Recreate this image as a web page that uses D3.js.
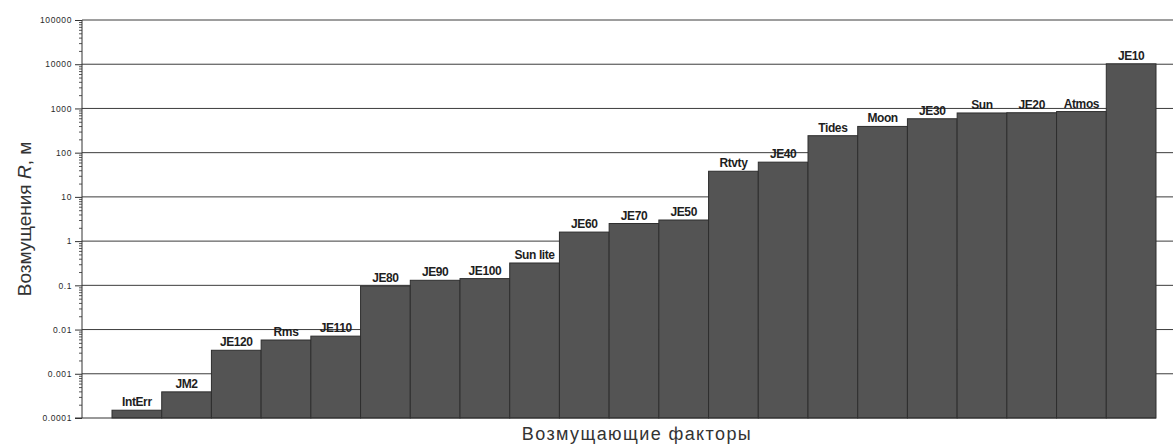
<!DOCTYPE html>
<html>
<head>
<meta charset="utf-8">
<script src="https://cdn.jsdelivr.net/npm/d3@7"></script>
<style>
  html, body { margin: 0; padding: 0; background: #fff; }
  svg { display: block; }
</style>
</head>
<body>
<svg id="chart" width="1173" height="444"></svg>
<script>
// ---- data ----
const categories = ["IntErr","JM2","JE120","Rms","JE110","JE80","JE90","JE100","Sun lite","JE60","JE70","JE50","Rtvty","JE40","Tides","Moon","JE30","Sun","JE20","Atmos","JE10"];
const values = [0.00015,0.00039,0.0034,0.0058,0.0071,0.097,0.13,0.142,0.32,1.6,2.5,3.0,38,61,242,392,585,790,800,850,10200];
const yTicks = [0.0001,0.001,0.01,0.1,1,10,100,1000,10000,100000];
const yTickLabels = ["0.0001","0.001","0.01","0.1","1","10","100","1000","10000","100000"];
const xTitle = "Возмущающие факторы";

// ---- layout ----
const svg = d3.select("#chart");
const axisX = 82, plotTop = 20, plotBottom = 418, gridRight = 1173;
const font = "Liberation Sans, Arial, sans-serif";

const y = d3.scaleLog().domain([0.0001, 100000]).range([plotBottom, plotTop]);
const x = d3.scaleBand().domain(categories).range([112, 1156]).paddingInner(0).paddingOuter(0);

// gridlines
svg.append("g").selectAll("line").data(yTicks.slice(1)).join("line")
  .attr("x1", axisX).attr("x2", gridRight)
  .attr("y1", d => y(d)).attr("y2", d => y(d))
  .attr("stroke", "#3c3c3c").attr("stroke-width", 1);

// bar labels (drawn beneath bars, so a long label is cut by the next bar)
svg.append("g").selectAll("text").data(categories).join("text")
  .attr("x", d => x(d) + x.bandwidth() / 2)
  .attr("y", (d, i) => y(values[i]) - 4)
  .attr("text-anchor", "middle")
  .attr("font-family", font)
  .attr("font-size", 12)
  .attr("font-weight", "bold")
  .attr("letter-spacing", -0.4)
  .attr("fill", "#1e1e1e")
  .text(d => d);

// bars
svg.append("g").selectAll("rect").data(categories).join("rect")
  .attr("x", d => x(d))
  .attr("width", x.bandwidth())
  .attr("y", (d, i) => y(values[i]))
  .attr("height", (d, i) => plotBottom - y(values[i]))
  .attr("fill", "#545454")
  .attr("stroke", "#2e2e2e")
  .attr("stroke-width", 1);

// bottom axis line
svg.append("line").attr("x1", axisX - 7).attr("x2", 1156)
  .attr("y1", plotBottom).attr("y2", plotBottom)
  .attr("stroke", "#333").attr("stroke-width", 1);

// y axis
const minor = [];
for (let e = -4; e < 5; e++) for (let m = 2; m <= 9; m++) minor.push(m * Math.pow(10, e));
const ag = svg.append("g").attr("transform", `translate(${axisX},0)`);
ag.append("g").call(d3.axisLeft(y).tickValues(minor).tickSize(3).tickFormat(""))
  .call(g => g.select(".domain").remove())
  .selectAll("line").attr("stroke", "#555");
const yAxis = d3.axisLeft(y).tickValues(yTicks).tickSize(7).tickPadding(3)
  .tickFormat((d, i) => yTickLabels[i]);
ag.append("g").call(yAxis)
  .call(g => g.select(".domain").attr("stroke", "#333").attr("d", `M0,${plotBottom}V${plotTop}`))
  .call(g => g.selectAll(".tick line").attr("stroke", "#333"))
  .call(g => g.selectAll(".tick text")
    .attr("font-family", font)
    .attr("font-size", 8.5).attr("fill", "#2a2a2a").attr("letter-spacing", 0.6));

// y title
const yt = svg.append("text")
  .attr("transform", `translate(31,${(plotTop + plotBottom) / 2}) rotate(-90)`)
  .attr("text-anchor", "middle")
  .attr("font-family", font)
  .attr("font-size", 19)
  .attr("fill", "#333");
yt.append("tspan").text("Возмущения ");
yt.append("tspan").attr("font-style", "italic").text("R");
yt.append("tspan").text(", м");

// x title
svg.append("text")
  .attr("x", 637).attr("y", 440)
  .attr("text-anchor", "middle")
  .attr("font-family", font)
  .attr("font-size", 18)
  .attr("letter-spacing", 1.4)
  .attr("fill", "#333")
  .text(xTitle);
</script>
</body>
</html>
